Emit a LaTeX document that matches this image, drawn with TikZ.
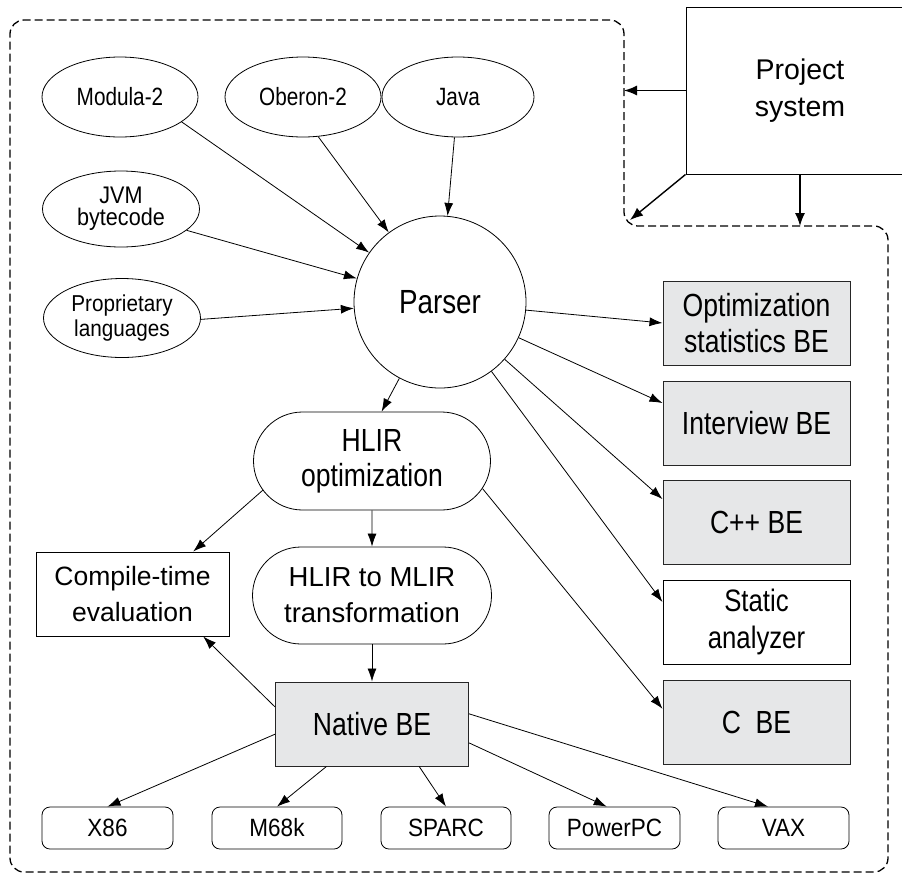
\documentclass[tikz,border=0pt]{standalone}
\usepackage{fontspec}
\setmainfont{Liberation Sans}
\newfontfamily\fcond{Liberation Sans}[FakeStretch=0.83]
\newfontfamily\fmid{Liberation Sans}[FakeStretch=0.9]
\usetikzlibrary{arrows.meta,shapes.geometric,shapes.misc}
\definecolor{boxgray}{RGB}{230,231,232}
\begin{document}
\begin{tikzpicture}[x=1pt,y=-1pt,
  conn/.style={draw=black, line width=0.8pt, -{Latex[length=13pt,width=9pt]}},
  boldconn/.style={draw=black, line width=1.4pt, -{Latex[length=13pt,width=10pt]}},
  lang/.style={ellipse, draw, line width=0.8pt, minimum width=156pt, minimum height=80pt, inner sep=0pt, align=center},
  graybox/.style={rectangle, draw=black!85, line width=1pt, fill=boxgray, minimum width=187pt, minimum height=84pt, inner sep=0pt, align=center},
  whitebox/.style={rectangle, draw, line width=1pt, minimum width=187pt, minimum height=84pt, inner sep=0pt, align=center},
  pill/.style={rounded rectangle, draw, line width=0.8pt, inner sep=0pt, align=center},
  target/.style={rectangle, rounded corners=8pt, draw, line width=0.8pt, minimum width=131pt, minimum height=42pt, inner sep=0pt, font={\fmid\fontsize{25}{27}\selectfont}},
  big/.style={font={\fcond\fontsize{32}{36}\selectfont}}
]
\path[use as bounding box] (0,0) rectangle (902,876);
\clip (0,0) rectangle (902,876);

% dashed system boundary
\draw[line width=1.3pt, dash pattern=on 8pt off 4pt, rounded corners=14pt]
  (300,20) -- (624,20) -- (624,226) -- (888,226) -- (888,872) -- (10,872) -- (10,20) -- cycle;

% project system
\node[draw, line width=1pt, minimum width=228pt, minimum height=167pt, inner sep=0pt, align=center,
      font={\fontsize{28.5}{37}\selectfont}] (proj) at (800,90.5) {Project\\system};
\coordinate (c1) at (624,90.5);
\coordinate (c2) at (630,220);
\coordinate (c3) at (800,226);

% source languages
\node[lang, font={\fcond\fontsize{25}{28}\selectfont}] (modula) at (120,97) {Modula-2};
\node[lang, font={\fcond\fontsize{25}{28}\selectfont}] (oberon) at (303,97) {Oberon-2};
\node[lang, minimum width=152pt, font={\fcond\fontsize{25}{28}\selectfont}] (java) at (458,97) {Java};
\node[lang, minimum width=157pt, minimum height=76pt, font={\fmid\fontsize{24}{22}\selectfont}] (jvm) at (121,209) {JVM\\bytecode};
\node[lang, minimum width=157pt, minimum height=79pt, font={\fmid\fontsize{23}{25}\selectfont}] (prop) at (122,318) {Proprietary\\languages};

% parser
\node[circle, draw, line width=0.8pt, minimum size=172pt, inner sep=0pt,
      font={\fcond\fontsize{33.5}{36}\selectfont}] (parser) at (440,302) {Parser};

% middle column
\node[pill, minimum width=237pt, minimum height=98pt, font={\fcond\fontsize{32}{35}\selectfont}] (hlir) at (372,461) {HLIR\\optimization};
\node[pill, minimum width=239pt, minimum height=97pt, font={\fontsize{27.5}{36}\selectfont}] (mlir) at (372,595.5) {HLIR to MLIR\\transformation};
\node[rectangle, draw, line width=1pt, minimum width=193pt, minimum height=84pt, inner sep=0pt, align=center,
      font={\fontsize{26.5}{36}\selectfont}] (compile) at (132.5,594) {Compile-time\\evaluation};
\node[graybox, minimum width=193pt, big] (native) at (372,724) {Native BE};

% right column back ends
\node[graybox, big] (opt) at (756.5,323) {Optimization\\statistics BE};
\node[graybox, big] (interview) at (756.5,423) {Interview BE};
\node[graybox, big] (cpp) at (756.5,522.5) {C++ BE};
\node[whitebox, font={\fcond\fontsize{31}{37.5}\selectfont}] (static) at (756.5,622) {Static\\analyzer};
\node[graybox, big] (cbe) at (756.5,722) {C\ \ BE};

% targets
\node[target] (x86) at (107.5,828) {X86};
\node[target, minimum width=130pt] (m68k) at (277,828) {M68k};
\node[target, minimum width=130pt] (sparc) at (446,828) {SPARC};
\node[target] (ppc) at (614.5,828) {PowerPC};
\node[target] (vax) at (783.5,828) {VAX};

% connectors
\draw[boldconn] (proj.west) -- (c1);
\draw[boldconn] (proj.south west) -- (c2);
\draw[boldconn] (proj.south) -- (c3);

\draw[conn] (modula.-22) -- (parser);
\draw[conn] (oberon.-69) -- (parser);
\draw[conn] (java.-95) -- (parser);
\draw[conn] (jvm.-18) -- (parser);
\draw[conn] (prop.-1) -- (parser);

\draw[conn] (parser) -- (opt.west);
\draw[conn] (parser) -- (interview.168);
\draw[conn] (parser) -- (cpp.166.5);
\draw[conn] (parser) -- (static.168.5);
\draw[conn] (parser) -- (hlir.79);

\draw[conn] (hlir.-14.5) -- (cbe.172.7);
\draw[conn] (hlir.195) -- (compile.35);
\draw[conn] (hlir) -- (mlir);
\draw[conn] (mlir) -- (native);
\draw[conn] (native.170) -- (compile.-31);

\draw[conn] (native.186.5) -- (x86.north);
\draw[conn] (native.223) -- (m68k.north);
\draw[conn] (native.-42) -- (sparc.north);
\draw[conn] (native.-11) -- (ppc.110);
\draw[conn] (native.6.5) -- (vax.126);
\end{tikzpicture}
\end{document}
